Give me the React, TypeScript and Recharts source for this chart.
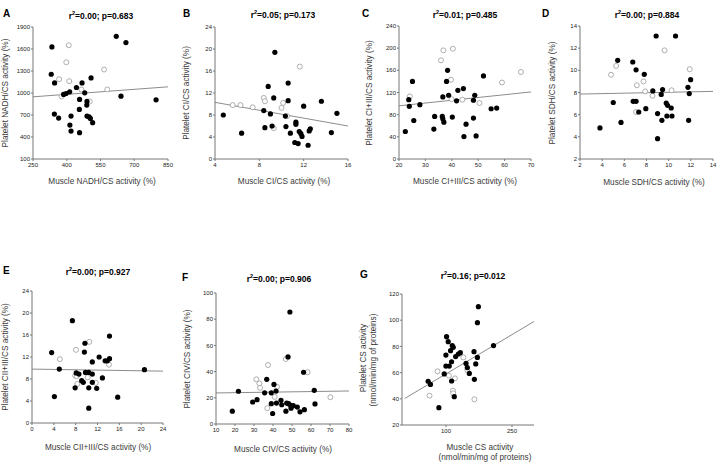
import React from 'react';
import { ScatterChart, Scatter, XAxis, YAxis, ReferenceLine } from 'recharts';

type Pt = [number, number];

// A: NADH/CS
const aFilled: Pt[] = [
  [334, 1628], [331, 1256], [346, 1138], [386, 980], [397, 993], [413, 1016], [443, 1075],
  [468, 1138], [480, 1002], [508, 1206], [457, 912], [490, 885], [489, 835], [456, 776],
  [345, 712], [364, 658], [419, 685], [490, 685], [499, 676], [505, 653], [414, 563],
  [419, 481], [457, 459], [515, 595], [620, 1773], [663, 1687], [641, 957], [797, 907],
];
const aOpen: Pt[] = [
  [377, 953], [366, 1188], [409, 1651], [398, 1419], [411, 1161], [465, 1048], [502, 885],
  [566, 1320], [580, 1048],
];
const aFit: Pt[] = [[250, 948], [850, 1084]];

// B: CI/CS
const bFilled: Pt[] = [
  [4.75, 8.0], [6.4, 4.7], [8.4, 8.8], [8.5, 5.7], [9.3, 11.1], [9.0, 8.2], [9.15, 6.0],
  [10.6, 10.6], [10.35, 7.8], [10.4, 5.9], [10.8, 4.7], [11.3, 6.7], [11.3, 6.3], [11.2, 3.0],
  [11.5, 2.8], [11.6, 5.0], [11.75, 4.6], [11.85, 4.1], [12.0, 9.6], [12.4, 2.5], [12.5, 5.1],
  [12.6, 5.5], [13.6, 10.5], [14.5, 4.8], [15.0, 8.3], [9.4, 19.4], [8.8, 13.2], [10.6, 13.8],
];
const bOpen: Pt[] = [
  [5.6, 9.8], [6.3, 9.8], [7.4, 9.4], [8.4, 11.1], [8.5, 10.5], [9.3, 5.6], [10.0, 9.3],
  [10.15, 10.2], [10.5, 7.8], [11.65, 16.8],
];
const bFit: Pt[] = [[4, 10.3], [16, 6.0]];

// C: CI+III/CS
const cFilled: Pt[] = [
  [22.4, 49.6], [23.7, 107], [23.9, 95], [25.1, 140], [25.6, 69.5], [27.9, 98], [33.2, 54],
  [33.5, 76.8], [36.4, 76.8], [36.6, 72.5], [37, 66.5], [36.6, 112], [38, 140], [38.4, 160],
  [38.8, 115], [40.2, 75.6], [41.8, 105], [42.3, 124], [44.4, 127], [45.4, 62.9], [44.6, 40.5],
  [48.2, 106], [48.2, 73.8], [48.7, 115], [49.2, 41.7], [52, 150], [54.9, 90.7], [57, 91.9],
];
const cOpen: Pt[] = [
  [24.1, 113], [35.9, 178], [36.8, 196], [40.4, 199], [39.7, 143], [39.9, 108], [44, 107],
  [50.5, 101], [59, 138], [66.2, 157],
];
const cFit: Pt[] = [[20, 96], [70, 121]];

// D: SDH/CS
const dFilled: Pt[] = [
  [3.8, 4.8], [5.0, 7.1], [5.4, 10.9], [5.7, 5.3], [6.76, 10.75], [6.8, 7.2], [7.06, 7.2],
  [7.06, 10.05], [7.3, 6.24], [7.8, 9.64], [7.94, 6.54], [8.57, 8.14], [8.87, 13.1], [9.0, 6.1],
  [9.0, 3.83], [9.33, 7.83], [9.45, 8.26], [9.39, 5.49], [9.78, 7.05], [9.9, 6.84], [9.84, 5.88],
  [10.23, 6.6], [10.3, 5.88], [10.62, 13.1], [11.74, 8.47], [11.86, 7.9], [11.98, 9.16], [11.8, 5.49],
];
const dOpen: Pt[] = [
  [4.8, 9.6], [5.26, 10.4], [7.13, 8.65], [7.73, 9.0], [7.88, 8.1], [7.06, 6.24], [8.54, 7.7],
  [9.63, 11.8], [10.26, 8.2], [11.9, 10.1],
];
const dFit: Pt[] = [[2, 7.86], [14, 8.1]];

// E: CII+III/CS
const eFilled: Pt[] = [
  [7.4, 18.6], [3.6, 12.8], [5.0, 9.8], [4.1, 4.8], [9.7, 14.5], [9.6, 12.9], [14.2, 15.8],
  [12.3, 12.0], [11.05, 11.1], [13.4, 11.3], [13.8, 11.3], [14.2, 11.7], [8.1, 9.1], [8.6, 8.9],
  [9.8, 9.2], [10.4, 9.2], [11.05, 8.9], [9.1, 7.7], [9.4, 7.4], [11.05, 7.4], [12.9, 8.2],
  [7.9, 6.4], [10.4, 6.4], [11.85, 6.3], [10.4, 2.7], [15.7, 4.7], [20.6, 9.7],
];
const eOpen: Pt[] = [
  [5.1, 11.6], [8.05, 13.3], [10.5, 14.75], [14.1, 10.6], [7.9, 8.6], [8.2, 8.5], [8.3, 7.1],
  [10.2, 8.3], [11.7, 7.3],
];
const eFit: Pt[] = [[0, 9.8], [24, 9.43]];

// F: CIV/CS
const fFilled: Pt[] = [
  [18.6, 9.8], [21.8, 25], [29.3, 16.8], [31.6, 18.6], [36.7, 34.1], [35.6, 23.8], [40.5, 30.2],
  [39.1, 23.8], [41.6, 25.1], [39.1, 15.5], [39.8, 8.0], [41.8, 16.0], [44.2, 18.1], [44.6, 14.7],
  [46.8, 9.8], [47.2, 16.0], [47.9, 51.2], [48.2, 15.5], [49.3, 14.2], [49.5, 12.1], [50.7, 14.0],
  [52.8, 12.9], [54.2, 9.3], [56.5, 10.9], [56.1, 39.5], [48.9, 85.5], [61.7, 25.7], [62.1, 15.3],
];
const fOpen: Pt[] = [
  [37.4, 45], [31.2, 34.1], [32.8, 31], [33.2, 27.6], [37, 12.1], [42.1, 28.4], [40.9, 20.7],
  [46.7, 49.6], [58.2, 39.5], [70.2, 20.4],
];
const fFit: Pt[] = [[10, 23.7], [80, 25.2]];

// G: CS activity
const gFilled: Pt[] = [
  [59.4, 53.4], [64.7, 51], [83.8, 33.2], [96, 59], [99.8, 73.4], [101.3, 87.4], [99.8, 65],
  [105, 83.6], [107.4, 65], [110.4, 76.7], [112.7, 68.3], [114.2, 80.6], [116.5, 79.3],
  [112.7, 53.6], [118.8, 41.6], [121.9, 72.2], [128, 74.2], [132.5, 75.2], [145.5, 67],
  [148.5, 63.8], [153, 59.4], [163.7, 76], [167.6, 66.6], [164.5, 54.9], [171.4, 71.6],
  [171.4, 98.1], [173.6, 110.3], [208, 80.6],
];
const gOpen: Pt[] = [
  [62.5, 42.4], [80.7, 61], [106.6, 57.7], [120.3, 55.6], [115.8, 46.2], [116.5, 44.2],
  [139.4, 71.6], [148.5, 62], [164.5, 39.6],
];
const gFit: Pt[] = [[6, 40.2], [300, 99]];

const FONT = '"Liberation Sans", Arial, sans-serif';
const toXY = (pts: Pt[]) => pts.map(([x, y]) => ({ x, y }));

const filledDot = (p: any) => <circle cx={p.cx} cy={p.cy} r={2.6} fill="#000" />;
const openDot = (p: any) => (
  <circle cx={p.cx} cy={p.cy} r={2.5} fill="#fff" stroke="#9a9a9a" strokeWidth={0.8} />
);

type PanelProps = {
  x0: number; y0: number; w: number; h: number;
  xDomain: [number, number]; xTicks: number[];
  yDomain: [number, number]; yTicks: number[];
  filled: Pt[]; open: Pt[]; fit: Pt[];
};

function Panel(p: PanelProps) {
  const tick = { fontSize: 6, fill: '#222', fontFamily: FONT };
  return (
    <div style={{ position: 'absolute', left: p.x0 - 40, top: p.y0 - 8 }}>
      <ScatterChart width={p.w + 48} height={p.h + 32} margin={{ top: 8, right: 8, bottom: 0, left: 0 }}>
        <XAxis type="number" dataKey="x" domain={p.xDomain} ticks={p.xTicks} height={24}
          tick={tick} tickSize={2} tickMargin={2} stroke="#777" interval={0} />
        <YAxis type="number" dataKey="y" domain={p.yDomain} ticks={p.yTicks} width={40}
          tick={tick} tickSize={2} tickMargin={1} stroke="#777" interval={0} />
        <ReferenceLine
          segment={[{ x: p.fit[0][0], y: p.fit[0][1] }, { x: p.fit[1][0], y: p.fit[1][1] }]}
          stroke="#8c8c8c" strokeWidth={1} />
        <Scatter data={toXY(p.open)} shape={openDot} isAnimationActive={false} />
        <Scatter data={toXY(p.filled)} shape={filledDot} isAnimationActive={false} />
      </ScatterChart>
    </div>
  );
}

const Txt = ({ x, y, children, size = 8.2, bold = false, rotate = false, color = '#3a3a3a' }: any) => (
  <div style={{
    position: 'absolute', left: x, top: y, whiteSpace: 'nowrap', fontSize: size,
    fontWeight: bold ? 'bold' : 'normal', color, lineHeight: 1,
    transform: `translate(-50%, -50%)${rotate ? ' rotate(-90deg)' : ''}`,
  }}>{children}</div>
);

const Letter = ({ x, y, children }: any) => (
  <div style={{ position: 'absolute', left: x, top: y - 6, fontSize: 10, fontWeight: 'bold', lineHeight: 1, color: '#000' }}>
    {children}
  </div>
);

const Title = ({ x, y, r, pv }: any) => (
  <Txt x={x} y={y} size={8.5} bold color="#000">r<sup style={{ fontSize: 5.5 }}>2</sup>={r}; p={pv}</Txt>
);

export default function App() {
  return (
    <div style={{ position: 'absolute', left: 0, top: 0, width: 718, height: 463, background: '#fff', fontFamily: FONT, overflow: 'hidden' }}>
      <Panel x0={33} y0={27} w={135} h={132} xDomain={[250, 850]} xTicks={[250, 400, 550, 700, 850]}
        yDomain={[100, 1900]} yTicks={[100, 400, 700, 1000, 1300, 1600, 1900]} filled={aFilled} open={aOpen} fit={aFit} />
      <Panel x0={215} y0={27} w={133} h={132} xDomain={[4, 16]} xTicks={[4, 8, 12, 16]}
        yDomain={[0, 24]} yTicks={[0, 4, 8, 12, 16, 20, 24]} filled={bFilled} open={bOpen} fit={bFit} />
      <Panel x0={399} y0={26} w={132} h={133} xDomain={[20, 70]} xTicks={[20, 30, 40, 50, 60, 70]}
        yDomain={[0, 240]} yTicks={[0, 40, 80, 120, 160, 200, 240]} filled={cFilled} open={cOpen} fit={cFit} />
      <Panel x0={580} y0={26} w={133} h={133} xDomain={[2, 14]} xTicks={[2, 4, 6, 8, 10, 12, 14]}
        yDomain={[2, 14]} yTicks={[2, 4, 6, 8, 10, 12, 14]} filled={dFilled} open={dOpen} fit={dFit} />
      <Panel x0={32} y0={291} w={131} h={132} xDomain={[0, 24]} xTicks={[0, 4, 8, 12, 16, 20, 24]}
        yDomain={[0, 24]} yTicks={[0, 4, 8, 12, 16, 20, 24]} filled={eFilled} open={eOpen} fit={eFit} />
      <Panel x0={216} y0={293} w={133} h={131} xDomain={[10, 80]} xTicks={[10, 20, 30, 40, 50, 60, 70, 80]}
        yDomain={[0, 100]} yTicks={[0, 20, 40, 60, 80, 100]} filled={fFilled} open={fOpen} fit={fFit} />
      <Panel x0={402} y0={294} w={132} h={131} xDomain={[0, 300]} xTicks={[100, 250]}
        yDomain={[20, 120]} yTicks={[20, 40, 60, 80, 100, 120]} filled={gFilled} open={gOpen} fit={gFit} />

      <Letter x={3} y={15}>A</Letter>
      <Letter x={183} y={15}>B</Letter>
      <Letter x={362} y={15}>C</Letter>
      <Letter x={542} y={15}>D</Letter>
      <Letter x={3} y={272}>E</Letter>
      <Letter x={182} y={279}>F</Letter>
      <Letter x={360} y={276}>G</Letter>

      <Title x={101} y={16} r="0.00" pv="0.683" />
      <Title x={283} y={15} r="0.05" pv="0.173" />
      <Title x={465} y={15} r="0.01" pv="0.485" />
      <Title x={647} y={15} r="0.00" pv="0.884" />
      <Title x={98} y={272} r="0.00" pv="0.927" />
      <Title x={279} y={279} r="0.00" pv="0.906" />
      <Title x={473} y={276} r="0.16" pv="0.012" />

      <Txt x={102} y={182}>Muscle NADH/CS activity (%)</Txt>
      <Txt x={284} y={182}>Muscle CI/CS activity (%)</Txt>
      <Txt x={465} y={182}>Muscle CI+III/CS activity (%)</Txt>
      <Txt x={654} y={183}>Muscle SDH/CS activity (%)</Txt>
      <Txt x={98} y={448}>Muscle CII+III/CS activity (%)</Txt>
      <Txt x={283} y={450}>Muscle CIV/CS activity (%)</Txt>
      <Txt x={480} y={448}>Muscle CS activity</Txt>
      <Txt x={485} y={458}>(nmol/min/mg of proteins)</Txt>

      <Txt x={6} y={93} rotate>Platelet NADH/CS activity (%)</Txt>
      <Txt x={187} y={93} rotate>Platelet CI/CS activity (%)</Txt>
      <Txt x={370} y={93} rotate>Platelet CI+III/CS activity (%)</Txt>
      <Txt x={553} y={93} rotate>Platelet SDH/CS activity (%)</Txt>
      <Txt x={6} y={357} rotate>Platelet CII+III/CS activity (%)</Txt>
      <Txt x={188} y={359} rotate>Platelet CIV/CS activity (%)</Txt>
      <Txt x={364} y={358} rotate>Platelet CS activity</Txt>
      <Txt x={374} y={360} rotate>(nmol/min/mg of proteins)</Txt>
    </div>
  );
}
